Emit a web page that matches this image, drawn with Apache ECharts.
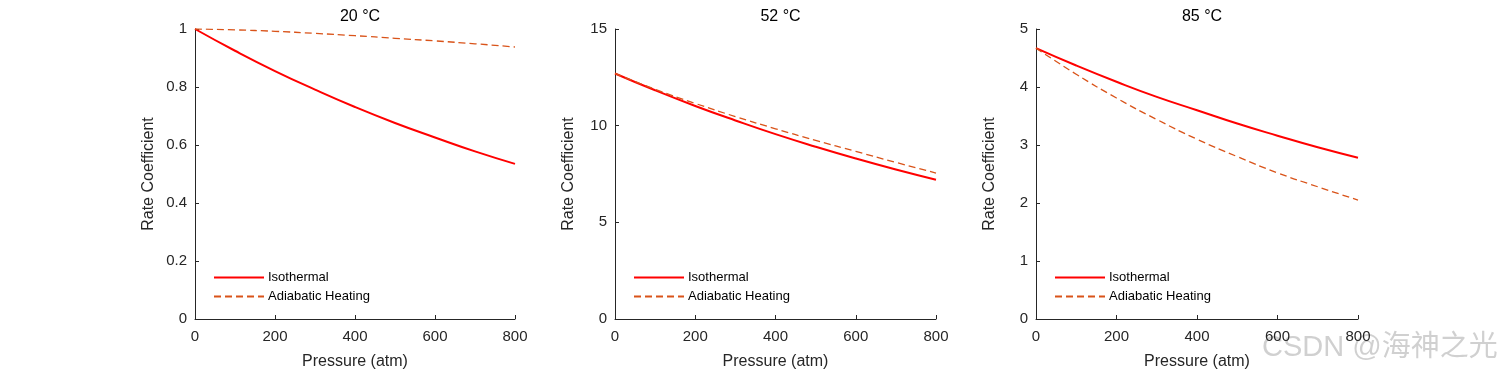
<!DOCTYPE html>
<html>
<head>
<meta charset="utf-8">
<script src="https://cdn.jsdelivr.net/npm/echarts@6/dist/echarts.min.js"></script>
<style>html,body{margin:0;padding:0;background:#fff;overflow:hidden;}#c{width:1500px;height:375px;}</style>
</head>
<body>
<div id="c"></div>
<script>
const pressure = [0, 100, 200, 300, 400, 500, 600, 700, 800];
const titles = ['20 °C', '52 °C', '85 °C'];
const iso20 = [1, 0.925, 0.855, 0.791, 0.731, 0.676, 0.626, 0.578, 0.535];
const adi20 = [1, 0.997, 0.992, 0.985, 0.977, 0.968, 0.959, 0.949, 0.938];
const iso52 = [12.7, 11.83, 11.02, 10.27, 9.56, 8.91, 8.30, 7.73, 7.2];
const adi52 = [12.7, 11.88, 11.15, 10.47, 9.84, 9.24, 8.67, 8.10, 7.55];
const iso85 = [4.67, 4.37, 4.09, 3.83, 3.60, 3.37, 3.16, 2.96, 2.78];
const adi85 = [4.67, 4.22, 3.81, 3.44, 3.10, 2.80, 2.52, 2.28, 2.05];
const yMax = [1, 15, 5];
const yInterval = [0.2, 5, 1];
const seriesNames = ['Isothermal', 'Adiabatic Heating'];

const isoSets = [iso20, iso52, iso85];
const adiSets = [adi20, adi52, adi85];
const gridLeft = [195, 615, 1036];
const gridWidth = [320, 321, 322];
const FONT = 'Liberation Sans, Arial, sans-serif';
const TXT = '#262626';

const grids = [], xAxes = [], yAxes = [], series = [], title = [], legend = [];
for (let i = 0; i < 3; i++) {
  grids.push({left: gridLeft[i], width: gridWidth[i], top: 29, height: 293, containLabel: false});
  xAxes.push({
    type: 'value', gridIndex: i, min: 0, max: 800, interval: 200,
    name: 'Pressure (atm)', nameLocation: 'middle', nameGap: 35,
    nameTextStyle: {fontSize: 16, color: TXT, fontFamily: FONT},
    axisLine: {show: true, lineStyle: {color: TXT, width: 1}},
    axisTick: {show: true, inside: true, length: 4, lineStyle: {color: TXT}},
    axisLabel: {fontSize: 15, color: TXT, fontFamily: FONT, margin: 10},
    splitLine: {show: false}
  });
  yAxes.push({
    type: 'value', gridIndex: i, min: 0, max: yMax[i], interval: yInterval[i],
    name: 'Rate Coefficient', nameLocation: 'middle', nameGap: 38,
    nameTextStyle: {fontSize: 16, color: TXT, fontFamily: FONT},
    axisLine: {show: true, lineStyle: {color: TXT, width: 1}},
    axisTick: {show: true, inside: true, length: 4, lineStyle: {color: TXT}},
    axisLabel: {fontSize: 15, color: TXT, fontFamily: FONT, margin: 8},
    splitLine: {show: false}
  });
  series.push({
    name: seriesNames[0], type: 'line', xAxisIndex: i, yAxisIndex: i,
    data: pressure.map((p, k) => [p, isoSets[i][k]]),
    smooth: true, symbol: 'none', lineStyle: {color: '#FF0000', width: 2}, itemStyle: {color: '#FF0000'}
  });
  series.push({
    name: seriesNames[1], type: 'line', xAxisIndex: i, yAxisIndex: i,
    data: pressure.map((p, k) => [p, adiSets[i][k]]),
    smooth: true, symbol: 'none', lineStyle: {color: '#D95319', width: 1.3, type: [7, 4]}, itemStyle: {color: '#D95319'}
  });
  title.push({
    text: titles[i], left: gridLeft[i] + gridWidth[i] / 2, top: 4, textAlign: 'center',
    textStyle: {fontSize: 16, fontWeight: 'normal', color: '#000', fontFamily: FONT}
  });
  legend.push({
    data: seriesNames, orient: 'vertical', left: gridLeft[i] + 13, top: 266,
    itemWidth: 50, itemHeight: 12, itemGap: 6,
    itemStyle: {opacity: 0},
    textStyle: {fontSize: 13, color: '#000', fontFamily: FONT, padding: [0, 0, 0, -1]},
    selectedMode: false
  });
}

const chart = echarts.init(document.getElementById('c'), null, {renderer: 'canvas'});
chart.setOption({
  backgroundColor: '#fff',
  animation: false,
  title, legend,
  grid: grids, xAxis: xAxes, yAxis: yAxes, series,
  graphic: [{
    type: 'text', left: 1262, top: 333,
    style: {text: 'CSDN @海神之光', fontSize: 29, fill: 'rgba(150,150,150,0.45)', fontFamily: 'Liberation Sans, Noto Sans CJK SC, sans-serif'}
  }]
});
</script>
</body>
</html>
